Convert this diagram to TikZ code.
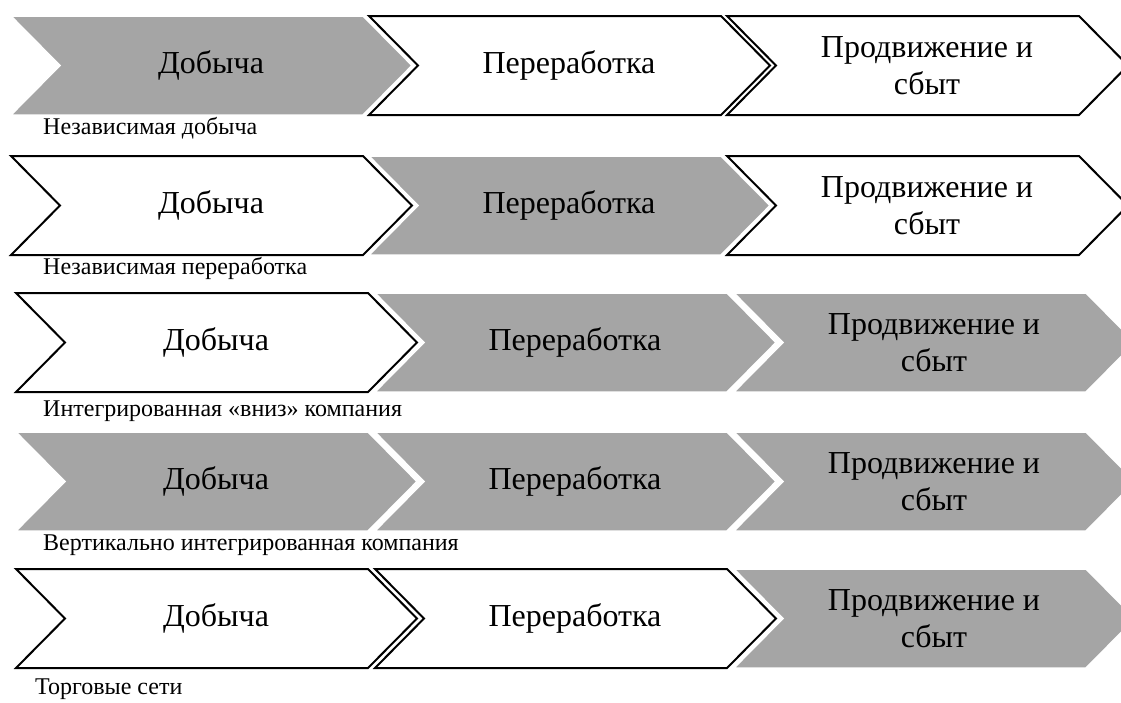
\documentclass[tikz,border=0pt]{standalone}
\usepackage{fontspec}
\setmainfont{Liberation Serif}
\definecolor{chevgray}{HTML}{A5A5A5}
\tikzset{
  graychev/.style={fill=chevgray, draw=white, line width=1.5pt, line join=miter},
  whitechev/.style={fill=white, draw=black, line width=2pt, line join=miter},
  chevtext/.style={align=center, inner sep=0pt, font=\fontsize{32}{37}\selectfont},
  rowlabel/.style={anchor=west, inner sep=0pt, font=\fontsize{24}{28}\selectfont}
}
\newcommand{\mychev}[5]{%
  \draw[#4] (#2,#3) -- ++(352,0) -- ++(49,49.5) -- ++(-49,49.5) -- ++(-352,0) -- ++(49,-49.5) -- cycle;
  \node[chevtext] (#1) at (#2+200,#3+49.5) {#5};
}
\begin{document}
\begin{tikzpicture}[x=1pt,y=-1pt]
\useasboundingbox (0,0) rectangle (1121,702);
\clip (0,0) rectangle (1121,702);
% Row 1
\mychev{a1}{11}{16}{graychev}{Добыча}
\mychev{a2}{369}{16}{whitechev}{Переработка}
\mychev{a3}{727}{16}{whitechev}{Продвижение и\\сбыт}
\node[rowlabel] (la) at (43,128) {Независимая добыча};
% Row 2
\mychev{b1}{11}{156}{whitechev}{Добыча}
\mychev{b2}{369}{156}{graychev}{Переработка}
\mychev{b3}{727}{156}{whitechev}{Продвижение и\\сбыт}
\node[rowlabel] (lb) at (43,268) {Независимая переработка};
% Row 3
\mychev{c1}{16}{293}{whitechev}{Добыча}
\mychev{c2}{375}{293}{graychev}{Переработка}
\mychev{c3}{734}{293}{graychev}{Продвижение и\\сбыт}
\node[rowlabel] (lc) at (43,411) {Интегрированная «вниз» компания};
% Row 4
\mychev{d1}{16}{432}{graychev}{Добыча}
\mychev{d2}{375}{432}{graychev}{Переработка}
\mychev{d3}{734}{432}{graychev}{Продвижение и\\сбыт}
\node[rowlabel] (ld) at (43,545) {Вертикально интегрированная компания};
% Row 5
\mychev{e1}{16}{569}{whitechev}{Добыча}
\mychev{e2}{375}{569}{whitechev}{Переработка}
\mychev{e3}{734}{569}{graychev}{Продвижение и\\сбыт}
\node[rowlabel] (le) at (35,689) {Торговые сети};
\end{tikzpicture}
\end{document}
